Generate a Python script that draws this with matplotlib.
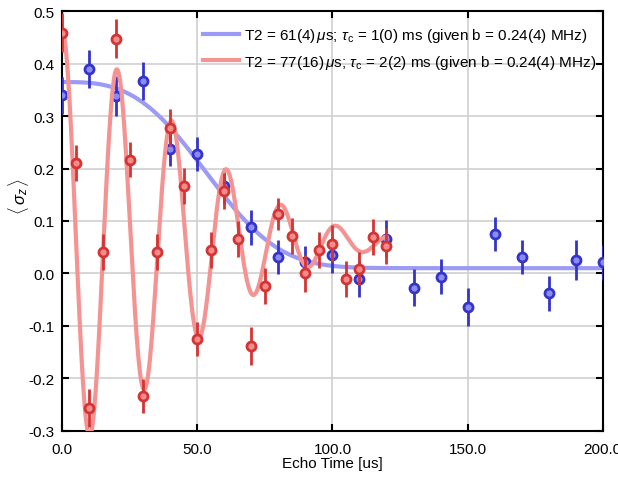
import numpy as np
import matplotlib
matplotlib.use('Agg')
import matplotlib.pyplot as plt

plt.rcParams['font.family'] = ['Liberation Sans', 'DejaVu Sans']
plt.rcParams['mathtext.fontset'] = 'custom'
plt.rcParams['mathtext.rm'] = 'Liberation Sans'
plt.rcParams['mathtext.it'] = 'Liberation Sans:italic'
plt.rcParams['axes.unicode_minus'] = False

# blue data (every 10 us)
t_blue = [0, 10, 20, 30, 40, 50, 60, 70, 80, 90, 100, 110, 120, 130, 140, 150, 160, 170, 180, 190, 200]
sz_blue = [0.340, 0.390, 0.338, 0.367, 0.238, 0.228, 0.167, 0.088, 0.031, 0.021, 0.035, -0.010, 0.066,
           -0.027, -0.006, -0.064, 0.075, 0.031, -0.038, 0.026, 0.021]
err_blue = [0.035, 0.037, 0.038, 0.037, 0.033, 0.033, 0.035, 0.033, 0.032, 0.032, 0.035, 0.035, 0.035,
            0.035, 0.033, 0.036, 0.033, 0.032, 0.034, 0.038, 0.034]

# red data (every 5 us)
t_red = [0, 5, 10, 15, 20, 25, 30, 35, 40, 45, 50, 55, 60, 65, 70, 75, 80, 85, 90, 95, 100, 105, 110, 115, 120]
sz_red = [0.459, 0.210, -0.257, 0.041, 0.448, 0.217, -0.234, 0.041, 0.278, 0.167, -0.125, 0.045, 0.157,
          0.066, -0.138, -0.024, 0.113, 0.071, 0.000, 0.045, 0.057, -0.011, 0.009, 0.070, 0.052]
err_red = [0.037, 0.034, 0.036, 0.034, 0.038, 0.034, 0.033, 0.034, 0.035, 0.034, 0.032, 0.034, 0.035,
           0.034, 0.036, 0.034, 0.030, 0.034, 0.035, 0.034, 0.035, 0.034, 0.032, 0.034, 0.034]

# fit parameters
blue_amp, blue_T2, blue_off = 0.355, 61.0, 0.010
red_amp, red_T1, red_T2, red_off, red_period = 0.40, 175.0, 72.0, 0.06, 20.3

label_blue = r'T2 = 61(4)$\,\mu$s; $\tau_{\rm c}$ = 1(0) ms (given b = 0.24(4) MHz)'
label_red = r'T2 = 77(16)$\,\mu$s; $\tau_{\rm c}$ = 2(2) ms (given b = 0.24(4) MHz)'

tb = np.linspace(0, 200, 600)
fit_blue = blue_off + blue_amp * np.exp(-(tb / blue_T2) ** 3)
tr = np.linspace(0, 120, 1200)
fit_red = red_off + red_amp * np.exp(-tr / red_T1 - (tr / red_T2) ** 2) * np.cos(2 * np.pi * tr / red_period)

fig = plt.figure(figsize=(6.18, 4.81), dpi=100)
ax = fig.add_axes([0.101, 0.1025, 0.874, 0.872])

ax.plot(tb, fit_blue, color='#9b9bf5', lw=3, label=label_blue, zorder=2)
ax.plot(tr, fit_red, color='#f59393', lw=3, label=label_red, zorder=4)

ax.errorbar(t_blue, sz_blue, yerr=err_blue, fmt='o', ms=6.5, mfc='#8c8cf0', mec='#3434cc', mew=2,
            ecolor='#3434cc', elinewidth=2, capsize=0, zorder=3)
ax.errorbar(t_red, sz_red, yerr=err_red, fmt='o', ms=6.5, mfc='#f08c8c', mec='#d63333', mew=2,
            ecolor='#d63333', elinewidth=2, capsize=0, zorder=5)

ax.set_xlim(0, 200)
ax.set_ylim(-0.3, 0.5)
ax.set_xticks([0, 50, 100, 150, 200])
ax.set_xticklabels(['0.0', '50.0', '100.0', '150.0', '200.0'])
ax.set_yticks([-0.3, -0.2, -0.1, 0.0, 0.1, 0.2, 0.3, 0.4, 0.5])
ax.set_yticklabels(['-0.3', '-0.2', '-0.1', '0.0', '0.1', '0.2', '0.3', '0.4', '0.5'])
ax.tick_params(direction='in', length=5, width=1.5, labelsize=11, top=True, right=True)
ax.tick_params(axis='x', pad=8)
ax.tick_params(axis='y', pad=6)
ax.grid(True, color='#d0d0d0', lw=1.2)
ax.set_axisbelow(True)
for s in ax.spines.values():
    s.set_linewidth(1.5)

ax.set_xlabel('Echo Time [us]', fontsize=11, labelpad=0)
ax.set_ylabel(r'$\langle\,\sigma_z\,\rangle$', fontsize=12)
ax.yaxis.set_label_coords(-0.058, 0.56)

ax.legend(loc='upper right', frameon=False, fontsize=11, handlelength=2.3, handletextpad=0.35,
          labelspacing=0.55, borderaxespad=0.3, bbox_to_anchor=(1.008, 0.99))

fig.savefig('out.png', dpi=100)
